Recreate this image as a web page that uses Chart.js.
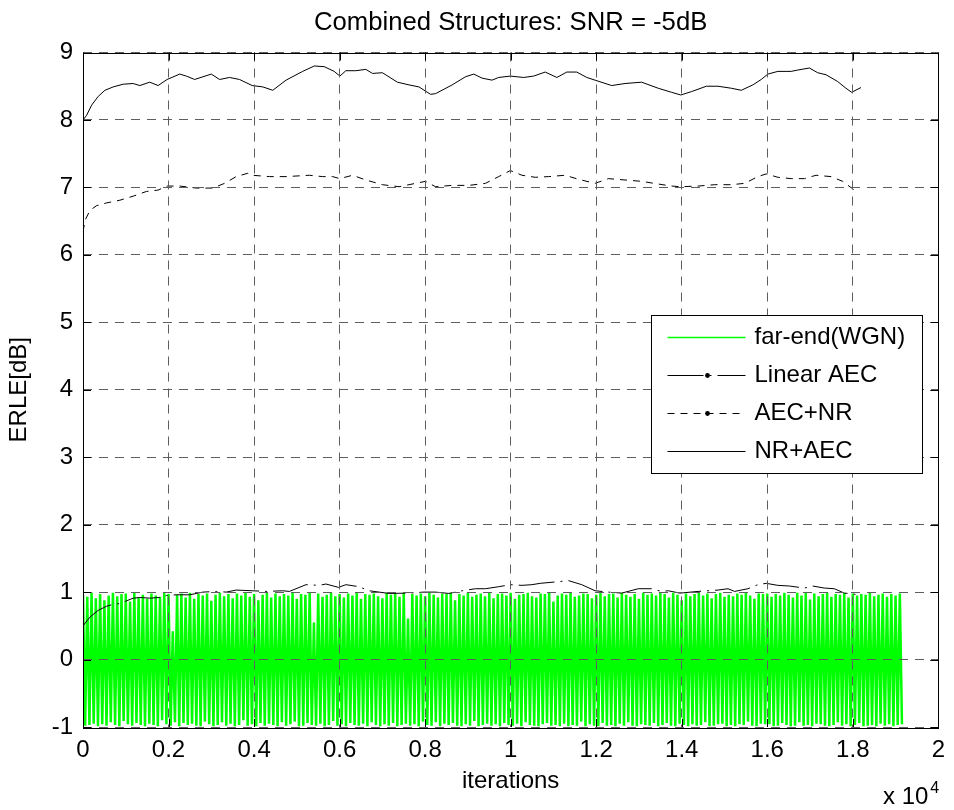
<!DOCTYPE html>
<html>
<head>
<meta charset="utf-8">
<title>Combined Structures: SNR = -5dB</title>
<script src="https://cdn.jsdelivr.net/npm/chart.js@4.4.1/dist/chart.umd.min.js"></script>
<style>
  html, body { margin: 0; padding: 0; background: #ffffff; }
  #wrap { width: 954px; height: 810px; }
</style>
</head>
<body>
<div id="wrap"><canvas id="erle" width="954" height="810"></canvas></div>
<script>
// Axis ticks
const xTickValues = [0, 2000, 4000, 6000, 8000, 10000, 12000, 14000, 16000, 18000, 20000];
const xTickLabels = ['0', '0.2', '0.4', '0.6', '0.8', '1', '1.2', '1.4', '1.6', '1.8', '2'];
const yTickValues = [-1, 0, 1, 2, 3, 4, 5, 6, 7, 8, 9];
const yTickLabels = ['-1', '0', '1', '2', '3', '4', '5', '6', '7', '8', '9'];

const chartTitle = 'Combined Structures: SNR = -5dB';

// Far-end white gaussian noise excitation (one sample every farEndStep iterations)
const farEndStep = 50;
const farEnd = [
  .96,-.98,.93,-.97,.99,-.95,.91,-.99,.97,-.96,.88,-.98,.95,-.93,.99,-.97,
  .94,-.99,.97,-.91,.98,-.96,.86,-.98,.99,-.94,.92,-.97,.96,-.99,.9,-.95,
  .98,-.97,.95,-.99,.93,-.9,.99,-.96,.97,-.98,.42,-.93,.96,-.99,.98,-.94,
  .92,-.97,.99,-.95,.9,-.98,.97,-.99,.95,-.92,.98,-.96,.87,-.99,.96,-.97,
  .99,-.93,.94,-.98,.97,-.95,.91,-.99,.98,-.97,.95,-.9,.99,-.98,.93,-.96,
  .97,-.99,.88,-.94,.96,-.98,.99,-.95,.92,-.97,.98,-.99,.94,-.93,.97,-.98,
  .95,-.96,.99,-.92,.9,-.99,.97,-.98,.96,-.94,.99,-.97,.55,-.98,.98,-.95,
  .93,-.99,.96,-.97,.99,-.91,.94,-.98,.97,-.96,.92,-.99,.98,-.94,.95,-.97,
  .99,-.98,.9,-.95,.97,-.99,.96,-.93,.98,-.97,.94,-.99,.91,-.96,.99,-.98,
  .96,-.94,.98,-.99,.93,-.97,.99,-.95,.61,-.98,.97,-.96,.95,-.99,.98,-.92,
  .94,-.97,.99,-.98,.96,-.93,.92,-.99,.98,-.95,.97,-.97,.99,-.94,.88,-.98,
  .97,-.99,.95,-.96,.99,-.98,.93,-.91,.96,-.99,.98,-.97,.94,-.95,.99,-.98,
  .91,-.96,.97,-.99,.98,-.94,.95,-.97,.99,-.98,.9,-.95,.96,-.99,.97,-.93,
  .99,-.97,.94,-.98,.92,-.99,.98,-.96,.97,-.94,.99,-.98,.86,-.97,.95,-.99,
  .98,-.95,.96,-.99,.99,-.97,.93,-.98,.95,-.92,.98,-.99,.97,-.96,.91,-.98,
  .96,-.99,.99,-.94,.94,-.98,.97,-.97,.98,-.99,.92,-.95,.99,-.98,.96,-.93,
  .93,-.98,.97,-.99,.9,-.96,.99,-.97,.96,-.98,.98,-.94,.95,-.99,.99,-.97,
  .97,-.94,.92,-.98,.99,-.99,.96,-.95,.88,-.97,.98,-.99,.94,-.96,.97,-.98,
  .99,-.97,.95,-.93,.98,-.99,.91,-.98,.97,-.96,.99,-.95,.93,-.99,.96,-.97,
  .94,-.99,.98,-.96,.96,-.97,.99,-.92,.95,-.98,.9,-.99,.98,-.95,.97,-.96,
  .98,-.96,.93,-.99,.97,-.98,.95,-.94,.99,-.97,.96,-.99,.92,-.98,.99,-.93,
  .95,-.98,.99,-.97,.89,-.99,.98,-.95,.94,-.96,.97,-.98,.99,-.99,.93,-.97,
  .97,-.93,.96,-.98,.99,-.96,.92,-.99,.98,-.97,.95,-.94,.97,-.99,.96,-.98,
  .99,-.97,.94,-.99,.96,-.95,.98,-.98,.93,-.96,.97,-.99,.95,-.97,.98,-.96
];

// Linear AEC
const linearAecIter = [0, 163, 357, 552, 707, 862, 1173, 1329, 1562, 1795, 1950, 2183, 2494, 2805, 3116,
  3349, 3582, 3955, 4281, 4670, 4825, 5214, 5524, 5680, 5975, 6146, 6457, 6690, 6923, 7156, 7622, 7972,
  8244, 8555, 8866, 9177, 9410, 9720, 9992, 10264, 10497, 10691, 11041, 11352, 11663, 11974, 12284,
  12595, 12984, 13295, 13528, 13683, 13955, 14382, 14848, 15082, 15237, 15548, 15781, 15975, 16247,
  16519, 16869, 17063, 17335, 17568, 17801, 17980, 18190];
const linearAecErle = [0.50, 0.63, 0.73, 0.79, 0.82, 0.83, 0.91, 0.92, 0.91, 0.92, 0.95, 0.96, 0.96, 1.00, 1.01,
  1.00, 1.03, 1.02, 1.01, 1.02, 1.01, 1.11, 1.10, 1.12, 1.07, 1.11, 1.08, 1.02, 1.00, 0.98, 0.985, 1.00,
  1.00, 0.98, 1.02, 1.05, 1.05, 1.08, 1.11, 1.10, 1.11, 1.13, 1.15, 1.17, 1.11, 1.02, 1.00,
  0.985, 1.05, 1.05, 1.01, 1.02, 0.985, 1.01, 1.03, 1.05, 1.01, 1.05, 1.11, 1.13, 1.10,
  1.09, 1.06, 1.09, 1.06, 1.05, 0.985, 0.975, 0.95];

// AEC followed by NR
const aecNrIter = [0, 47, 163, 319, 552, 862, 1173, 1484, 1756, 1966, 2261, 2650, 3038, 3310, 3582, 3854,
  3955, 4359, 4747, 5291, 5603, 5836, 6006, 6302, 6613, 7001, 7389, 7778, 8011, 8244, 8632, 9021, 9410,
  9720, 9993, 10264, 10575, 10886, 11274, 11585, 11974, 12285, 12673, 13062, 13450, 13761, 13979,
  14383, 14771, 15160, 15471, 15781, 15976, 16248, 16559, 16870, 17141, 17491, 17763, 17973, 18035];
const aecNrErle = [6.34, 6.51, 6.66, 6.73, 6.77, 6.81, 6.87, 6.94, 6.96, 7.02, 7.02, 6.99, 6.99, 7.06, 7.16, 7.21,
  7.18, 7.16, 7.16, 7.18, 7.16, 7.16, 7.13, 7.18, 7.11, 7.04, 7.01, 7.06, 7.09, 7.01, 7.03, 7.03, 7.06,
  7.16, 7.25, 7.18, 7.15, 7.16, 7.18, 7.12, 7.06, 7.13, 7.11, 7.09, 7.05, 7.02, 7.01,
  7.02, 7.04, 7.04, 7.06, 7.16, 7.20, 7.15, 7.13, 7.13, 7.18, 7.16, 7.09, 6.99, 6.96];

// NR followed by AEC
const nrAecIter = [0, 86, 202, 357, 513, 707, 940, 1173, 1329, 1562, 1756, 1966, 2261, 2417, 2611, 3000,
  3194, 3427, 3660, 3955, 4204, 4437, 4748, 5136, 5408, 5641, 5874, 6006, 6146, 6380, 6613, 6768, 7001,
  7351, 7622, 7855, 8127, 8244, 8632, 8943, 9137, 9331, 9565, 9720, 9993, 10303, 10536, 10808, 11080,
  11313, 11546, 11779, 11974, 12362, 12673, 13062, 13450, 13761, 13979, 14227, 14577, 14848, 15160,
  15393, 15664, 15859, 16014, 16248, 16559, 16714, 16986, 17180, 17374, 17646, 17840, 17973, 18190];
const nrAecErle = [8.00, 8.07, 8.22, 8.35, 8.44, 8.49, 8.53, 8.54, 8.51, 8.56, 8.51, 8.60, 8.68, 8.65, 8.60, 8.68,
  8.60, 8.63, 8.60, 8.51, 8.49, 8.44, 8.59, 8.72, 8.80, 8.79, 8.72, 8.65, 8.73, 8.73, 8.75, 8.69, 8.70,
  8.56, 8.52, 8.49, 8.38, 8.39, 8.52, 8.64, 8.68, 8.62, 8.59, 8.63, 8.65, 8.63, 8.65, 8.71, 8.63,
  8.71, 8.71, 8.63, 8.59, 8.51, 8.54, 8.56, 8.47, 8.41, 8.37, 8.42, 8.50, 8.50, 8.47,
  8.44, 8.52, 8.60, 8.68, 8.72, 8.72, 8.74, 8.77, 8.70, 8.67, 8.57, 8.47, 8.41, 8.48];

const FONT = "'Liberation Sans', Arial, Helvetica, sans-serif";

function zip(xs, ys) { return xs.map((x, i) => ({ x: x, y: ys[i] })); }
const farEndPts = farEnd.map((v, i) => ({ x: i * farEndStep, y: v }));

// Title centred over the plot area
const plotTitle = {
  id: 'plotTitle',
  afterDraw(chart) {
    const { ctx, chartArea: a } = chart;
    ctx.save();
    ctx.fillStyle = '#000';
    ctx.font = '25.7px ' + FONT;
    ctx.textAlign = 'center';
    ctx.textBaseline = 'alphabetic';
    ctx.fillText(chartTitle, (a.left + a.right) / 2, 30);
    ctx.restore();
  }
};

// Box around the plot area with inward tick marks on all four sides
const axesBox = {
  id: 'axesBox',
  afterDraw(chart) {
    const { ctx, chartArea: a, scales } = chart;
    const len = 8;
    ctx.save();
    ctx.strokeStyle = '#000';
    ctx.lineWidth = 1;
    ctx.setLineDash([]);
    ctx.beginPath();
    xTickValues.forEach(v => {
      const px = Math.round(scales.x.getPixelForValue(v)) + 0.5;
      ctx.moveTo(px, a.bottom); ctx.lineTo(px, a.bottom - len);
      ctx.moveTo(px, a.top); ctx.lineTo(px, a.top + len);
    });
    yTickValues.forEach(v => {
      const py = Math.round(scales.y.getPixelForValue(v)) + 0.5;
      ctx.moveTo(a.left, py); ctx.lineTo(a.left + len, py);
      ctx.moveTo(a.right, py); ctx.lineTo(a.right - len, py);
    });
    ctx.stroke();
    ctx.strokeRect(Math.round(a.left) + 0.5, Math.round(a.top) + 0.5,
      Math.round(a.right - a.left), Math.round(a.bottom - a.top));
    ctx.restore();
  }
};

// Legend box in the right half of the plot
const boxLegend = {
  id: 'boxLegend',
  afterDraw(chart) {
    const { ctx, chartArea: a } = chart;
    const w = 271, h = 158;
    const l = Math.round(a.right - 287) + 0.5;
    const t = Math.round(a.top + 262.5) + 0.5;
    ctx.save();
    ctx.fillStyle = '#fff';
    ctx.fillRect(l, t, w, h);
    ctx.strokeStyle = '#000';
    ctx.lineWidth = 1;
    ctx.setLineDash([]);
    ctx.strokeRect(l, t, w, h);
    ctx.font = '24px ' + FONT;
    ctx.textBaseline = 'middle';
    ctx.textAlign = 'left';
    chart.data.datasets.forEach((ds, i) => {
      const y = Math.round(t + 21.7 + i * 37.8) + 0.5;
      ctx.strokeStyle = ds.borderColor;
      ctx.lineWidth = ds.legendWidth || 1;
      ctx.setLineDash(ds.borderDash || []);
      ctx.beginPath();
      ctx.moveTo(l + 16, y);
      ctx.lineTo(l + 94, y);
      ctx.stroke();
      if (ds.legendDot) {
        ctx.fillStyle = '#000';
        ctx.beginPath();
        ctx.arc(l + 56, y, 2.4, 0, Math.PI * 2);
        ctx.fill();
      }
      ctx.fillStyle = '#000';
      ctx.fillText(ds.label, l + 103, y);
    });
    ctx.restore();
  }
};

// Scale factor of the iteration axis
const axisExponent = {
  id: 'axisExponent',
  afterDraw(chart) {
    const { ctx, chartArea: a } = chart;
    ctx.save();
    ctx.fillStyle = '#000';
    ctx.textBaseline = 'alphabetic';
    ctx.textAlign = 'right';
    ctx.font = '24px ' + FONT;
    ctx.fillText('x 10', a.right - 10, 804);
    ctx.textAlign = 'left';
    ctx.font = '16px ' + FONT;
    ctx.fillText('4', a.right - 8, 793);
    ctx.restore();
  }
};

new Chart(document.getElementById('erle'), {
  type: 'line',
  data: {
    datasets: [
      { label: 'far-end(WGN)', data: farEndPts, borderColor: '#00ff00', borderWidth: 2.5,
        pointRadius: 0, tension: 0, order: 4, legendWidth: 1.5 },
      { label: 'Linear AEC', data: zip(linearAecIter, linearAecErle), borderColor: '#000000',
        borderWidth: 1, borderDash: [36, 6, 2, 6], pointRadius: 0, tension: 0, order: 1, legendDot: true },
      { label: 'AEC+NR', data: zip(aecNrIter, aecNrErle), borderColor: '#000000',
        borderWidth: 1, borderDash: [7, 6], pointRadius: 0, tension: 0, order: 2, legendDot: true },
      { label: 'NR+AEC', data: zip(nrAecIter, nrAecErle), borderColor: '#000000',
        borderWidth: 1, pointRadius: 0, tension: 0, order: 3 }
    ]
  },
  options: {
    responsive: false,
    animation: false,
    devicePixelRatio: 1,
    layout: { padding: { left: 0, right: 13, top: 52.5, bottom: 0 } },
    plugins: {
      legend: { display: false },
      tooltip: { enabled: false },
      title: { display: false }
    },
    scales: {
      x: {
        type: 'linear',
        min: 0,
        max: 20000,
        afterBuildTicks(s) { s.ticks = xTickValues.map(v => ({ value: v })); },
        afterFit(s) { s.height = 83; },
        ticks: {
          autoSkip: false, maxRotation: 0, padding: 9, color: '#000',
          font: { family: FONT, size: 24 },
          callback: (v, i) => xTickLabels[i]
        },
        grid: { color: '#5e5e5e', lineWidth: 1, drawTicks: false, z: 1 },
        border: { display: false, dash: [9, 7] },
        title: {
          display: true, text: 'iterations', color: '#000',
          font: { family: FONT, size: 24 }, padding: { top: 2, bottom: 14 }
        }
      },
      y: {
        type: 'linear',
        min: -1,
        max: 9,
        afterBuildTicks(s) { s.ticks = yTickValues.map(v => ({ value: v })); },
        afterFit(s) { s.width = 83; },
        ticks: {
          autoSkip: false, padding: 10, color: '#000',
          font: { family: FONT, size: 24 },
          callback: (v, i) => yTickLabels[i]
        },
        grid: { color: '#5e5e5e', lineWidth: 1, drawTicks: false, z: 1 },
        border: { display: false, dash: [9, 7] },
        title: {
          display: true, text: 'ERLE[dB]', color: '#000',
          font: { family: FONT, size: 24 }, padding: { top: 5, bottom: 0 }
        }
      }
    }
  },
  plugins: [plotTitle, axesBox, boxLegend, axisExponent]
});
</script>
</body>
</html>
